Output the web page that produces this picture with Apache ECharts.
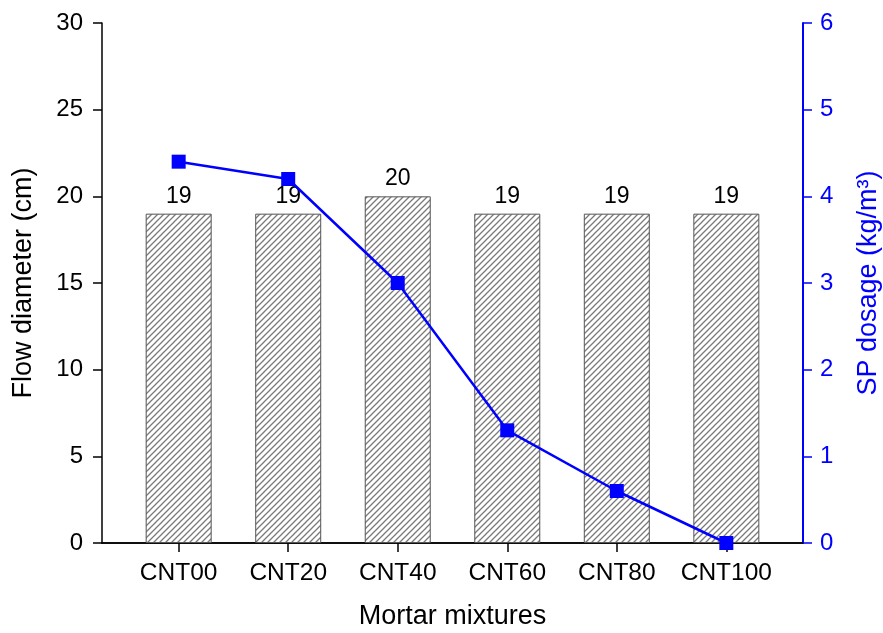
<!DOCTYPE html>
<html>
<head>
<meta charset="utf-8">
<script src="https://cdn.jsdelivr.net/npm/echarts@6/dist/echarts.min.js"></script>
<style>
html,body{margin:0;padding:0;background:#fff;}
#chart{width:883px;height:633px;}
</style>
</head>
<body>
<div id="chart"></div>
<script>
const categories = ['CNT00','CNT20','CNT40','CNT60','CNT80','CNT100'];
const flowDiameter = [19, 19, 20, 19, 19, 19];
const spDosage = [4.4, 4.2, 3.0, 1.3, 0.6, 0.0];
const leftTicks = [0, 5, 10, 15, 20, 25, 30];
const rightTicks = [0, 1, 2, 3, 4, 5, 6];

function hatch() {
  const s = 6;
  const c = document.createElement('canvas');
  c.width = s; c.height = s;
  const ctx = c.getContext('2d');
  ctx.fillStyle = '#ffffff';
  ctx.fillRect(0, 0, s, s);
  ctx.strokeStyle = '#7a7a7a';
  ctx.lineWidth = 1.3;
  ctx.beginPath();
  ctx.moveTo(-1, s + 1); ctx.lineTo(s + 1, -1);
  ctx.moveTo(-1, 1); ctx.lineTo(1, -1);
  ctx.moveTo(s - 1, s + 1); ctx.lineTo(s + 1, s - 1);
  ctx.stroke();
  return c;
}

const positions = categories.map((_, i) => i + 1);
const barData = flowDiameter.map((v, i) => [positions[i], v]);
const lineData = spDosage.map((v, i) => [positions[i], v]);

const font = 'Liberation Sans, Arial, sans-serif';
const chart = echarts.init(document.getElementById('chart'), null, {renderer: 'canvas'});
chart.setOption({
  animation: false,
  backgroundColor: '#ffffff',
  grid: {left: 102, right: 80, top: 23, bottom: 90, containLabel: false, outerBoundsMode: 'none'},
  xAxis: [{
    type: 'value', min: 0.3, max: 6.7, position: 'bottom',
    name: 'Mortar mixtures', nameLocation: 'middle', nameGap: 60,
    nameTextStyle: {fontFamily: font, fontSize: 27, color: '#000'},
    axisLine: {show: true, lineStyle: {color: '#000', width: 1.5}},
    axisTick: {show: true, customValues: positions, length: 9, lineStyle: {color: '#000', width: 1.5}},
    axisLabel: {customValues: positions, formatter: v => categories[Math.round(v) - 1] || '', fontFamily: font, fontSize: 24.5, color: '#000', margin: 18},
    splitLine: {show: false}
  }, {
    type: 'value', min: 0.3, max: 6.7, position: 'top',
    axisLine: {show: true, lineStyle: {color: '#000', width: 1.5}},
    axisTick: {show: false}, axisLabel: {show: false}, splitLine: {show: false}
  }],
  yAxis: [{
    type: 'value', min: 0, max: 30, interval: 5, position: 'left',
    name: 'Flow diameter (cm)', nameLocation: 'middle', nameGap: 65,
    nameTextStyle: {fontFamily: font, fontSize: 27, color: '#000'},
    axisLine: {show: true, lineStyle: {color: '#000', width: 1.5}},
    axisTick: {show: true, length: 9, lineStyle: {color: '#000', width: 1.5}},
    axisLabel: {fontFamily: font, fontSize: 24, color: '#000', margin: 19},
    splitLine: {show: false}
  }, {
    type: 'value', min: 0, max: 6, interval: 1, position: 'right',
    name: 'SP dosage (kg/m³)', nameLocation: 'middle', nameGap: 52, nameRotate: 90,
    nameTextStyle: {fontFamily: font, fontSize: 27, color: '#0000ff'},
    axisLine: {show: true, lineStyle: {color: '#0000ff', width: 2}},
    axisTick: {show: true, length: 9, lineStyle: {color: '#0000ff', width: 1.5}},
    axisLabel: {fontFamily: font, fontSize: 24, color: '#0000ff', margin: 17},
    splitLine: {show: false}
  }],
  series: [{
    type: 'bar', xAxisIndex: 0, yAxisIndex: 0, data: barData, barWidth: 66,
    itemStyle: {color: {image: hatch(), repeat: 'repeat'}, borderColor: '#555', borderWidth: 1},
    label: {show: true, position: 'top', distance: 6, fontFamily: font, fontSize: 23, color: '#000'},
    z: 2
  }, {
    type: 'line', xAxisIndex: 0, yAxisIndex: 1, data: lineData,
    symbol: 'rect', symbolSize: 14,
    lineStyle: {color: '#0000ff', width: 2.5},
    itemStyle: {color: '#0000ff'},
    z: 5
  }]
});
</script>
</body>
</html>
